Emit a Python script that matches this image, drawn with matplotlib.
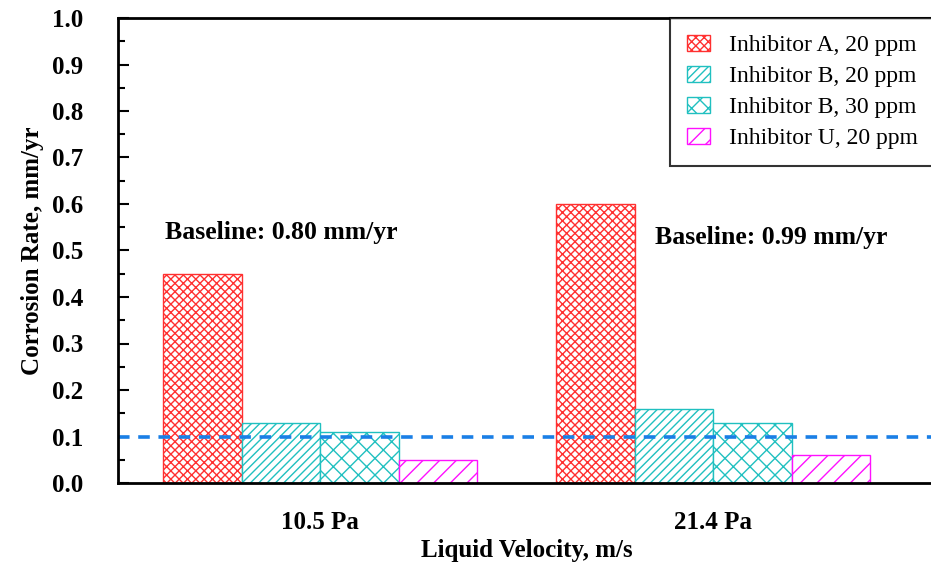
import numpy as np
import matplotlib
matplotlib.use("Agg")
import matplotlib.pyplot as plt
from matplotlib.ticker import MultipleLocator, FormatStrFormatter

plt.rcParams['font.family'] = ['Liberation Serif', 'DejaVu Serif']
plt.rcParams['hatch.linewidth'] = 1.0

# data
groups = ['10.5 Pa', '21.4 Pa']
series = ['Inhibitor A, 20 ppm', 'Inhibitor B, 20 ppm',
          'Inhibitor B, 30 ppm', 'Inhibitor U, 20 ppm']
rate_A20 = [0.45, 0.60]
rate_B20 = [0.13, 0.16]
rate_B30 = [0.11, 0.13]
rate_U20 = [0.05, 0.06]
baseline_text = ['Baseline: 0.80 mm/yr', 'Baseline: 0.99 mm/yr']
target_rate = 0.10

colors = ['#ff3030', '#20c0c0', '#20c0c0', '#ff10ff']
hatches = ['xxxx', '////', 'xx', '//']

fig = plt.figure(figsize=(9.31, 5.66), dpi=100)
ax = fig.add_axes([118 / 931, 1 - 483 / 566, 817 / 931, 465 / 566])

x = np.arange(len(groups))
w = 0.2
all_rates = [rate_A20, rate_B20, rate_B30, rate_U20]
for i, (vals, lab) in enumerate(zip(all_rates, series)):
    ax.bar(x + (i - 1.5) * w, vals, w, label=lab, color='white',
           edgecolor=colors[i], hatch=hatches[i], linewidth=1.0)

ax.axhline(target_rate, color='#1a7fe6', linestyle=(0, (3.2, 2.4)), linewidth=2.6)

ax.text(-0.395, 0.538, baseline_text[0], fontsize=18.5, fontweight='bold', va='center')
ax.text(0.851, 0.529, baseline_text[1], fontsize=18.5, fontweight='bold', va='center')

ax.set_xlim(-0.515, 1.565)
ax.set_ylim(0, 1.0)
ax.set_xticks(x)
ax.set_xticklabels(groups, fontsize=18, fontweight='bold')
ax.tick_params(axis='x', length=0, pad=20)
ax.yaxis.set_major_locator(MultipleLocator(0.1))
ax.yaxis.set_minor_locator(MultipleLocator(0.05))
ax.yaxis.set_major_formatter(FormatStrFormatter('%.1f'))
ax.tick_params(axis='y', which='major', direction='in', length=8, width=1.5,
               labelsize=18, pad=25)
ax.tick_params(axis='y', which='minor', direction='in', length=5, width=1.5)
for lbl in ax.get_yticklabels():
    lbl.set_fontweight('bold')

ax.set_ylabel('Corrosion Rate, mm/yr', fontsize=18, fontweight='bold', labelpad=6)
ax.set_xlabel('Liquid Velocity, m/s', fontsize=18, fontweight='bold', labelpad=4)

for s in ['left', 'bottom', 'top']:
    ax.spines[s].set_linewidth(2)
ax.spines['right'].set_visible(False)

leg = ax.legend(loc='upper right', bbox_to_anchor=(1.0, 1.0), fontsize=17,
                frameon=True, fancybox=False, edgecolor='black',
                borderaxespad=0, handlelength=1.0, handleheight=0.65,
                handletextpad=0.8, labelspacing=0.42, borderpad=0.72)
leg.get_frame().set_linewidth(1.5)

fig.savefig('out.png', dpi=100)
